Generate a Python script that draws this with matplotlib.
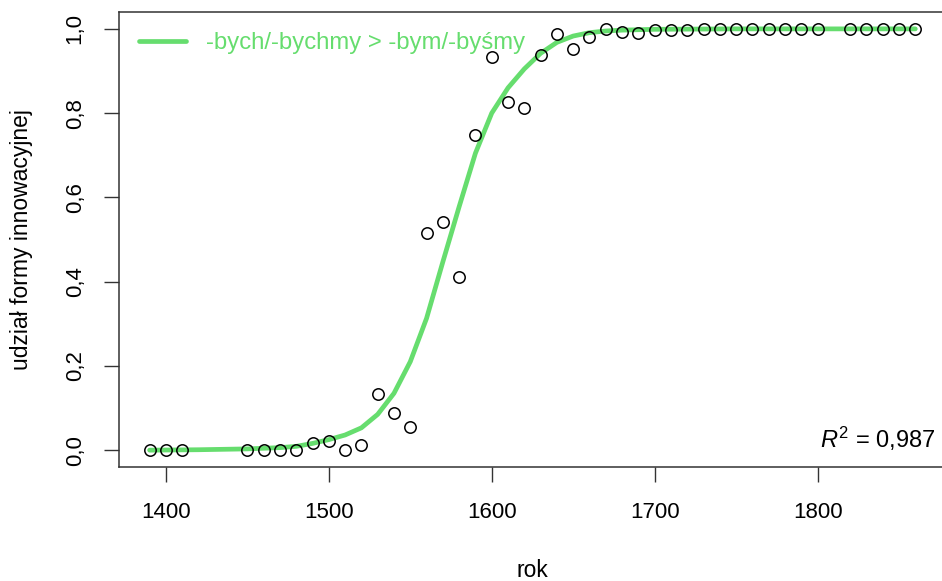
import matplotlib.pyplot as plt
import matplotlib.ticker as mticker

plt.rcParams['font.family'] = ['Liberation Sans', 'DejaVu Sans']
plt.rcParams['mathtext.fontset'] = 'custom'
plt.rcParams['mathtext.rm'] = 'Liberation Sans'
plt.rcParams['mathtext.it'] = 'Liberation Sans:italic'

# observed proportions of the innovative form, by decade
years = [1390, 1400, 1410, 1450, 1460, 1470, 1480, 1490, 1500, 1510,
         1520, 1530, 1540, 1550, 1560, 1570, 1580, 1590, 1600, 1610,
         1620, 1630, 1640, 1650, 1660, 1670, 1680, 1690, 1700, 1710,
         1720, 1730, 1740, 1750, 1760, 1770, 1780, 1790, 1800, 1820,
         1830, 1840, 1850, 1860]
share = [0.0, 0.0, 0.0, 0.0, 0.0, 0.0, 0.0, 0.017, 0.022, 0.0,
         0.013, 0.133, 0.088, 0.055, 0.516, 0.542, 0.412, 0.747, 0.934, 0.826,
         0.813, 0.937, 0.987, 0.953, 0.980, 0.999, 0.993, 0.990, 0.997, 0.998,
         0.997, 1.0, 1.0, 1.0, 1.0, 1.0, 1.0, 1.0, 1.0, 1.0,
         1.0, 1.0, 1.0, 1.0]

# fitted curve
fit_years = [1390, 1420, 1450, 1470, 1480, 1490, 1500, 1510, 1520, 1530,
             1540, 1550, 1560, 1570, 1580, 1590, 1600, 1610, 1620, 1630,
             1640, 1650, 1660, 1670, 1680, 1700, 1750, 1800, 1860]
fit_share = [0.0, 0.001, 0.003, 0.006, 0.009, 0.016, 0.025, 0.036, 0.053, 0.085,
             0.135, 0.21, 0.313, 0.447, 0.578, 0.705, 0.80, 0.86, 0.905, 0.942,
             0.968, 0.983, 0.991, 0.995, 0.997, 0.999, 1.0, 1.0, 1.0]

x_ticks = [1400, 1500, 1600, 1700, 1800]
y_ticks = [0.0, 0.2, 0.4, 0.6, 0.8, 1.0]
y_labels = ['0,0', '0,2', '0,4', '0,6', '0,8', '1,0']

green = '#66DD6E'

fig = plt.figure(figsize=(9.42, 5.81), dpi=100)
ax = fig.add_axes([0.1263, 0.1962, 0.8779, 0.7831])

ax.plot(fit_years, fit_share, color=green, linewidth=3.4,
        solid_capstyle='round', label='-bych/-bychmy > -bym/-byśmy', zorder=2)
ax.plot(years, share, linestyle='none', marker='o', markersize=8.2,
        markerfacecolor='none', markeredgecolor='black', markeredgewidth=1.1,
        zorder=3)

ax.set_xlim(1371.2, 1878.8)
ax.set_ylim(-0.04, 1.04)
ax.set_xticks(x_ticks)
ax.set_yticks(y_ticks)
ax.yaxis.set_major_formatter(mticker.FixedFormatter(y_labels))
ax.tick_params(axis='both', direction='out', length=11, width=1.0,
               labelsize=16, color='#333333')
ax.tick_params(axis='x', pad=14)
ax.tick_params(axis='y', pad=13)
for lab in ax.get_yticklabels():
    lab.set_rotation(90)
    lab.set_va('center')

for sp in ax.spines.values():
    sp.set_linewidth(1.1)
    sp.set_color('#333333')

ax.set_xlabel('rok', fontsize=16.5)
ax.set_ylabel('udział formy innowacyjnej', fontsize=16.5)
ax.xaxis.set_label_coords(0.5, -0.203)
ax.yaxis.set_label_coords(-0.104, 0.5)

leg = ax.legend(loc='upper left', frameon=False, fontsize=17.2,
                handlelength=1.97, handletextpad=0.84,
                bbox_to_anchor=(0.0, 1.0), borderaxespad=0.45)
for t in leg.get_texts():
    t.set_color(green)

ax.text(0.9867, 0.042, r'$R^2$ = 0,987', transform=ax.transAxes,
        ha='right', va='baseline', fontsize=17)

fig.savefig('out.png', dpi=100)
